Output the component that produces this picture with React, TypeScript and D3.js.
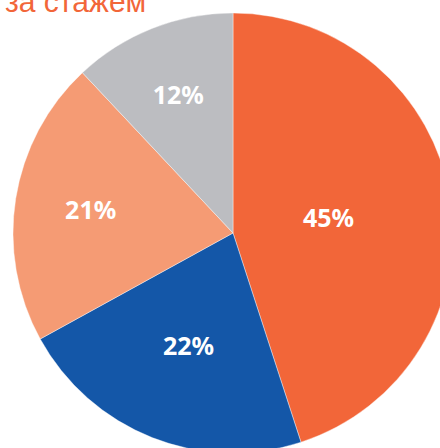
import React from "react";
import * as d3 from "d3";

const categories = ["A", "B", "C", "D"];
const values = [45, 22, 21, 12];
const labels = ["45%", "22%", "21%", "12%"];
const colors = ["#F26639", "#1457A8", "#F59B74", "#BCBDC1"];
const labelRadiusFrac = [0.44, 0.55, 0.655, 0.675];
const title = "за стажем";

export default function App() {
  const W = 440, H = 448;
  const cx = 233, cy = 233, R = 220;
  const pie = d3.pie<number>().sort(null).value((d) => d)(values);
  const arc = d3.arc<d3.PieArcDatum<number>>().innerRadius(0).outerRadius(R);
  return (
    <svg width={W} height={H} style={{ position: "absolute", left: 0, top: 0, background: "#fff" }}>
      <g transform={`translate(${cx},${cy})`}>
        {pie.map((p, i) => (
          <path key={categories[i]} d={arc(p) || ""} fill={colors[i]} stroke="#fff" strokeWidth={0.4} />
        ))}
        {pie.map((p, i) => {
          const r = R * labelRadiusFrac[i];
          const la = d3.arc<d3.PieArcDatum<number>>().innerRadius(r).outerRadius(r);
          const [x, y] = la.centroid(p);
          return (
            <text key={"l" + i} x={x} y={y} dy="0.36em" textAnchor="middle" fill="#fff"
              fontFamily="'Noto Sans', sans-serif" fontWeight={700} fontSize={25}>
              {labels[i]}
            </text>
          );
        })}
      </g>
      <text x={5} y={12} fill="#F26639" fontFamily="'Liberation Sans', Arial, sans-serif" fontSize={30} fontWeight={400}>
        {title}
      </text>
    </svg>
  );
}
